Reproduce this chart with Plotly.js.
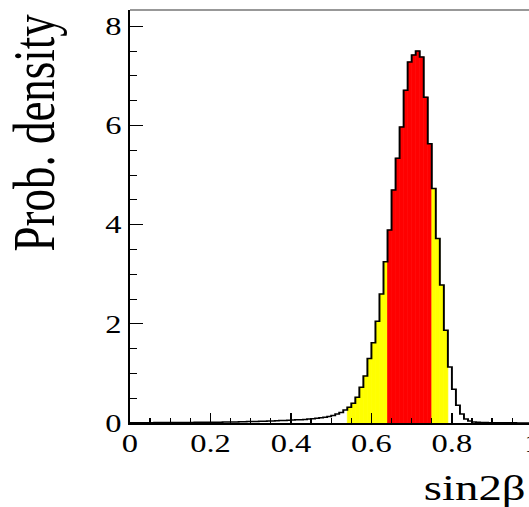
<!DOCTYPE html>
<html>
<head>
<meta charset="utf-8">
<script src="https://cdn.plot.ly/plotly-3.0.1.min.js"></script>
<style>
  html, body { margin: 0; padding: 0; overflow: hidden; background: #fff; width: 529px; height: 507px; }
  #chart { width: 435px; height: 507px; transform: scaleX(1.3); transform-origin: 0 0; }
</style>
</head>
<body>
<div id="chart"></div>
<script>
// ---- data ----
const binStart = 0.0;
const binWidth = 0.01;
const density = [
  0.005, 0.005, 0.006, 0.006, 0.007, 0.007, 0.008, 0.008, 0.009, 0.009,
  0.010, 0.010, 0.011, 0.011, 0.012, 0.012, 0.013, 0.013, 0.014, 0.014,
  0.015, 0.016, 0.017, 0.018, 0.019, 0.020, 0.022, 0.024, 0.026, 0.028,
  0.030, 0.032, 0.034, 0.037, 0.040, 0.042, 0.045, 0.048, 0.052, 0.056,
  0.060, 0.064, 0.068, 0.073, 0.080, 0.088, 0.096, 0.105, 0.115, 0.130,
  0.150, 0.180, 0.210, 0.260, 0.320, 0.400, 0.520, 0.720, 0.950, 1.300,
  1.620, 2.050, 2.600, 3.250, 3.890, 4.700, 5.340, 5.970, 6.710, 7.280,
  7.420, 7.500, 7.380, 6.570, 5.630, 4.730, 3.720, 2.780, 1.870, 1.130,
  0.680, 0.360, 0.180, 0.080, 0.040, 0.020, 0.015, 0.010, 0.008, 0.006,
  0.005, 0.004, 0.004, 0.003, 0.003, 0.003, 0.002, 0.002, 0.002, 0.002
];
const interval68 = [0.64, 0.75];
const interval95 = [0.54, 0.79];
const xTickVals = [0, 0.2, 0.4, 0.6, 0.8, 1];
const xTickText = ['0', '0.2', '0.4', '0.6', '0.8', '1'];
const yTickVals = [0, 2, 4, 6, 8];
const yTickText = ['0', '2', '4', '6', '8'];
const xTitle = 'sin2β';
const yTitle = 'Prob. density';

// ---- build traces ----
const leftEdges = density.map((_, i) => +(binStart + i * binWidth).toFixed(4));
const centers = leftEdges.map(e => +(e + binWidth / 2).toFixed(4));
const colors = centers.map(c =>
  (c > interval68[0] && c < interval68[1]) ? '#ff0000' :
  (c > interval95[0] && c < interval95[1]) ? '#ffff00' : 'rgba(0,0,0,0)');

const outlineX = leftEdges.concat([+(leftEdges[leftEdges.length - 1] + binWidth).toFixed(4)]);
const outlineY = density.concat([density[density.length - 1]]);

const fill = {
  type: 'bar', x: centers, y: density, width: binWidth,
  marker: { color: colors, line: { color: colors, width: 0.6 } },
  hoverinfo: 'skip', showlegend: false
};
const outline = {
  type: 'scatter', mode: 'lines', x: outlineX, y: outlineY,
  line: { shape: 'hv', color: '#000', width: 1.5 },
  hoverinfo: 'skip', showlegend: false
};

const serif = 'Liberation Serif, Times New Roman, serif';
const layout = {
  width: 435, height: 507,
  margin: { l: 100, r: 10, t: 10, b: 84 },
  paper_bgcolor: '#fff', plot_bgcolor: '#fff',
  bargap: 0,
  xaxis: {
    range: [0, 1.05], showgrid: false, zeroline: false,
    showline: true, linecolor: '#000', linewidth: 2,
    ticks: 'inside', ticklen: 10, tickwidth: 1, tickcolor: '#000',
    tickvals: xTickVals, ticktext: xTickText,
    tickfont: { family: serif, size: 25, color: '#000' },
    ticklabelstandoff: -3,
    minor: { dtick: 0.05, tick0: 0, ticks: 'inside', ticklen: 5, tickwidth: 1, tickcolor: '#000' }
  },
  yaxis: {
    range: [0, 8.327], showgrid: false, zeroline: false,
    showline: true, linecolor: '#000', linewidth: 1.5,
    ticks: 'inside', ticklen: 10, tickwidth: 1, tickcolor: '#000',
    tickvals: yTickVals, ticktext: yTickText,
    tickfont: { family: serif, size: 25, color: '#000' },
    ticklabelstandoff: 0,
    minor: { dtick: 0.5, tick0: 0, ticks: 'inside', ticklen: 5, tickwidth: 1, tickcolor: '#000' }
  },
  shapes: [
    { type: 'line', xref: 'paper', yref: 'paper', x0: 0, x1: 1, y0: 1, y1: 1,
      line: { color: '#333', width: 1 } }
  ],
  annotations: [
    { text: yTitle, xref: 'paper', yref: 'paper', x: -0.226, y: 0.702,
      xanchor: 'center', yanchor: 'middle', textangle: -90, showarrow: false,
      font: { family: serif, size: 45, color: '#000' } },
    { text: xTitle, xref: 'x', yref: 'paper', x: 0.99, y: -0.158,
      xanchor: 'right', yanchor: 'middle', showarrow: false,
      font: { family: serif, size: 36, color: '#000' } }
  ]
};

Plotly.newPlot('chart', [fill, outline], layout, { displayModeBar: false, staticPlot: true });
</script>
</body>
</html>
